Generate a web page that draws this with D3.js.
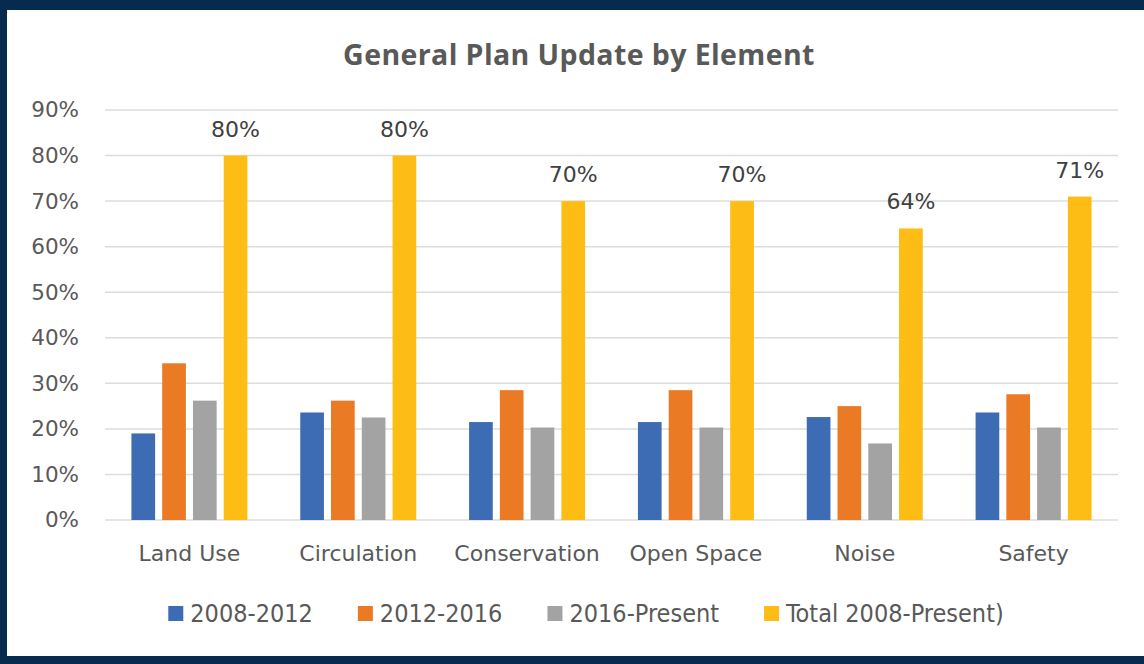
<!DOCTYPE html>
<html>
<head>
<meta charset="utf-8">
<script src="https://cdn.jsdelivr.net/npm/d3@7"></script>
<style>
  body { margin: 0; background: #072b4f; }
  svg { display: block; }
</style>
</head>
<body>
<svg width="1144" height="664"></svg>
<script>
// values (percent)
var categories = ["Land Use", "Circulation", "Conservation", "Open Space", "Noise", "Safety"];
var seriesNames = ["2008-2012", "2012-2016", "2016-Present", "Total 2008-Present)"];
var s2008 = [19, 23.6, 21.5, 21.5, 22.6, 23.6];
var s2012 = [34.4, 26.2, 28.5, 28.5, 25, 27.6];
var s2016 = [26.2, 22.5, 20.3, 20.3, 16.8, 20.3];
var total = [80, 80, 70, 70, 64, 71];
var totalLabels = ["80%", "80%", "70%", "70%", "64%", "71%"];
var yTicks = [0, 10, 20, 30, 40, 50, 60, 70, 80, 90];
var colors = ["#3e6cb4", "#ea7a24", "#a3a3a3", "#fdbd14"];

var series = [s2008, s2012, s2016, total];

var svg = d3.select("svg");

// white panel
svg.append("rect")
   .attr("x", 7).attr("y", 10)
   .attr("width", 1137).attr("height", 646)
   .attr("fill", "#ffffff");

var x0 = d3.scaleBand()
   .domain(categories)
   .range([105, 1118])
   .paddingInner(0.313)
   .paddingOuter(0.1565);

var x1 = d3.scaleBand()
   .domain(d3.range(series.length))
   .range([0, x0.bandwidth()])
   .paddingInner(0.23);

var y = d3.scaleLinear()
   .domain([0, 90])
   .range([520, 110]);

// gridlines
svg.append("g")
   .selectAll("line")
   .data(yTicks)
   .enter().append("line")
     .attr("x1", 105).attr("x2", 1118)
     .attr("y1", function(d) { return y(d); })
     .attr("y2", function(d) { return y(d); })
     .attr("stroke", "#dcdcdc")
     .attr("stroke-width", 1.5);

// y axis labels
var yAxis = d3.axisLeft(y).tickValues(yTicks).tickSize(0).tickPadding(26)
   .tickFormat(function(d) { return d + "%"; });
var ya = svg.append("g").attr("transform", "translate(105,0)").call(yAxis);
ya.select(".domain").remove();
ya.selectAll("text")
   .attr("font-family", "DejaVu Sans")
   .attr("font-size", 21.5)
   .attr("fill", "#595959");

// bars
var groups = svg.append("g")
   .selectAll("g")
   .data(series)
   .enter().append("g")
     .attr("fill", function(d, i) { return colors[i]; });

groups.each(function(vals, si) {
  d3.select(this).selectAll("rect")
    .data(vals)
    .enter().append("rect")
      .attr("x", function(d, ci) { return x0(categories[ci]) + x1(si); })
      .attr("y", function(d) { return y(d); })
      .attr("width", x1.bandwidth())
      .attr("height", function(d) { return y(0) - y(d); });
});

// labels for total
svg.append("g")
   .selectAll("text")
   .data(total)
   .enter().append("text")
     .attr("x", function(d, i) { return x0(categories[i]) + x1(3) + x1.bandwidth() / 2; })
     .attr("y", function(d) { return y(d) - 19; })
     .attr("text-anchor", "middle")
     .attr("font-family", "DejaVu Sans")
     .attr("font-size", 22)
     .attr("fill", "#404040")
     .text(function(d, i) { return totalLabels[i]; });

// x axis labels
var xAxis = d3.axisBottom(x0).tickSize(0).tickPadding(25);
var xa = svg.append("g").attr("transform", "translate(0,520)").call(xAxis);
xa.select(".domain").remove();
xa.selectAll("text")
   .attr("font-family", "DejaVu Sans")
   .attr("font-size", 22)
   .attr("fill", "#595959");

// title
svg.append("text")
   .attr("x", 579).attr("y", 65)
   .attr("text-anchor", "middle")
   .attr("font-family", "Open Sans")
   .attr("font-weight", "bold")
   .attr("font-size", 28.5)
   .attr("letter-spacing", 0.4)
   .attr("fill", "#595959")
   .text("General Plan Update by Element");

// legend
var legend = svg.append("g");
var lx = 0;
seriesNames.forEach(function(name, i) {
  var item = legend.append("g").attr("transform", "translate(" + lx + ",0)");
  item.append("rect")
     .attr("x", 0).attr("y", 606)
     .attr("width", 15).attr("height", 15)
     .attr("fill", colors[i]);
  var t = item.append("text")
     .attr("x", 22).attr("y", 622)
     .attr("font-family", "DejaVu Sans Condensed, DejaVu Sans")
     .attr("font-stretch", "condensed")
     .attr("font-size", 25)
     .attr("fill", "#595959")
     .text(name);
  lx += 22 + t.node().getComputedTextLength() + 45;
});
var lw = lx - 45;
legend.attr("transform", "translate(" + (586 - lw / 2) + ",0)");
</script>
</body>
</html>
